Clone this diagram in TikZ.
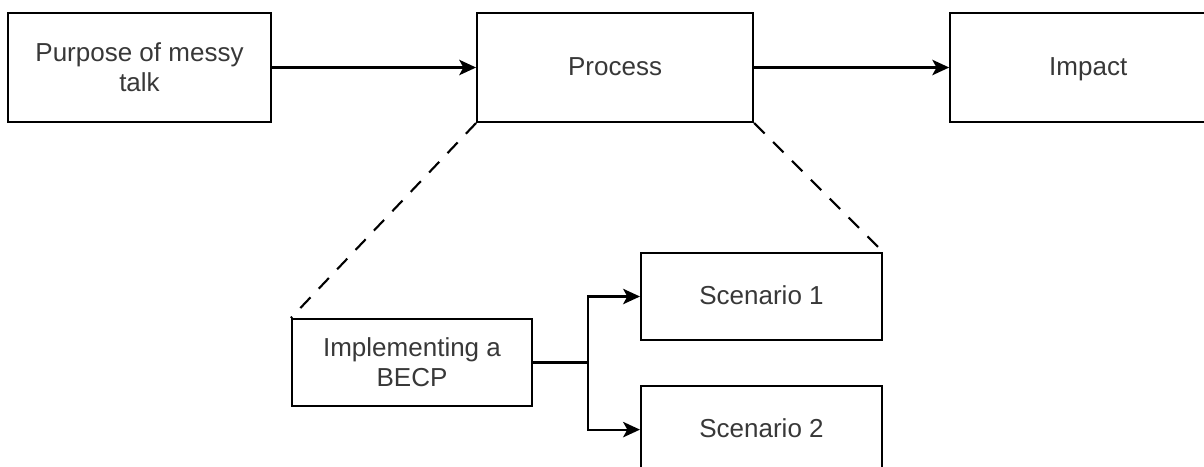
\documentclass[tikz,border=0pt]{standalone}
\usepackage{fontspec}
\setmainfont{Liberation Sans}
\usepackage{tikz}
\usetikzlibrary{arrows.meta,positioning}

\begin{document}
\begin{tikzpicture}
  %[auto,every node/.style={rectangle,draw,text centered,minimum height=2cm}]
  [auto,every node/.style={rectangle,draw,line width=1.5pt,text=black!78,align=center,inner sep=0pt,font=\fontsize{18.5}{21.5}\selectfont,minimum height=2.725cm},>={Stealth[length=12pt,width=11pt,inset=3pt]}]
\tikzset{%
wide/.style={minimum width=6.9cm},
small/.style={minimum height=2.175cm,minimum width=6.025cm},
oneline/.style={text height=13.7pt,text depth=3pt},
link/.style={->,line width=1.5pt},
zoomline/.style={line width=1.5pt,dash pattern=on 10.5pt off 8.5pt}
}
\useasboundingbox (0,0) rectangle (30.1,-11.65);
  \node[minimum width=6.575cm] (purpose) at (3.4875,-1.6875) {Purpose of messy\\talk};
  \node[wide,oneline,right=5.1cm of purpose] (process) {Process};
  \node[wide,oneline,right=4.875cm of process] (impact) {Impact};
  \node[small,minimum width=6cm] (becp) at (10.3,-9.0625) {Implementing a\\BECP};
  \node[small,oneline] (s1) at (19.0375,-7.4125) {Scenario 1};
  \node[small,oneline,below=1.1cm of s1] (s2) {Scenario 2};
\coordinate[right=1.375cm of becp] (split);
\draw[link] (purpose) -- (process);
\draw[link] (process) -- (impact);
\draw[zoomline] (process.south west) -- (becp.north west);
\draw[zoomline] (process.south east) -- (s1.north east);
\draw[line width=1.5pt] (becp) -- (split);
\draw[link] (split) |- (s1);
\draw[link] (split) |- (s2);
\end{tikzpicture}
\end{document}
